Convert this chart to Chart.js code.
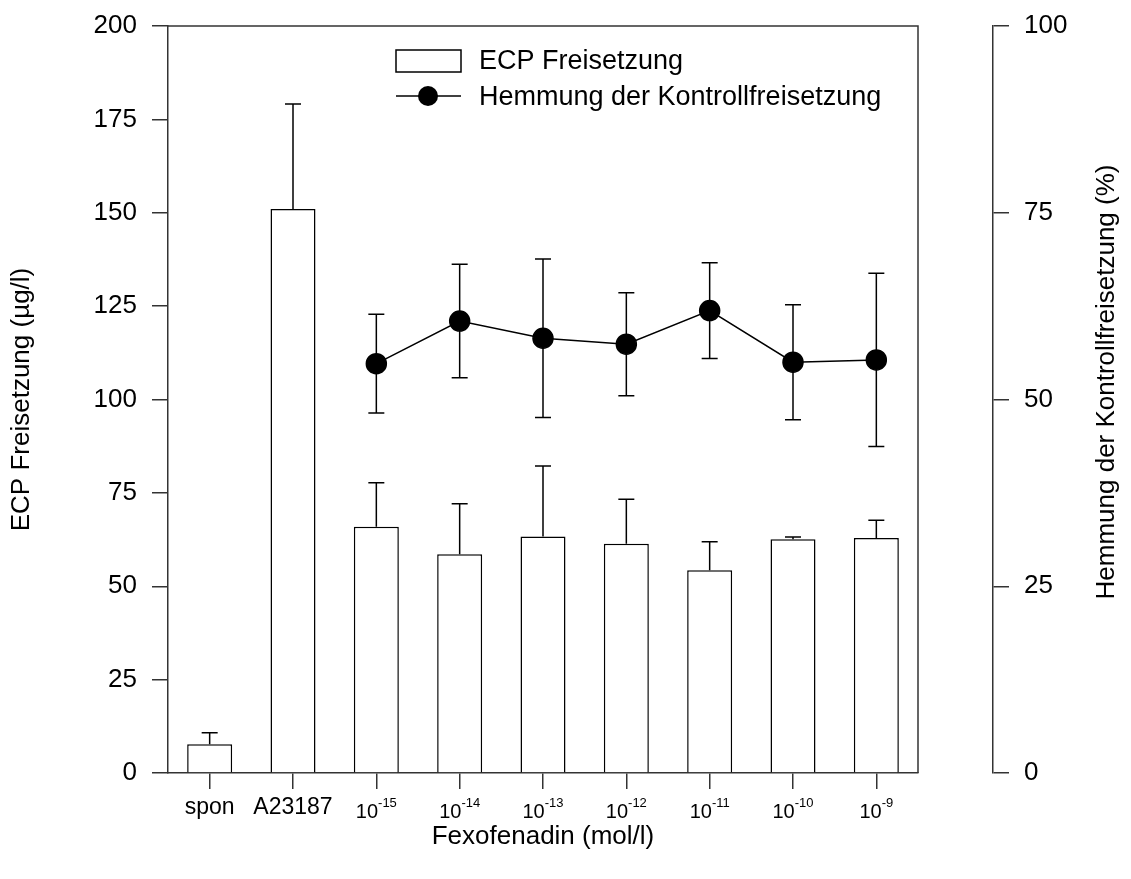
<!DOCTYPE html>
<html>
<head>
<meta charset="utf-8">
<script src="https://cdn.jsdelivr.net/npm/chart.js@4.4.0/dist/chart.umd.min.js"></script>
<style>
  html, body { margin: 0; padding: 0; background: #fff; }
  #wrap { width: 1131px; height: 879px; position: relative; }
</style>
</head>
<body>
<div id="wrap"><canvas id="chart"></canvas></div>
<script>
// data
const categories = ['spon', 'A23187', '10^-15', '10^-14', '10^-13', '10^-12', '10^-11', '10^-10', '10^-9'];
const ecpMean = [7.7, 151, 65.9, 58.6, 63.3, 61.4, 54.3, 62.6, 62.9];
const ecpSd = [3.1, 28.1, 11.8, 13.5, 18.9, 11.9, 7.6, 0.6, 4.8];
const inhMean = [null, null, 54.8, 60.5, 58.2, 57.4, 61.9, 55.0, 55.3];
const inhSd = [null, null, 6.6, 7.6, 10.6, 6.9, 6.4, 7.7, 11.6];
const leftMax = 200, rightMax = 100, tickStep = 25;

const FONT = 'Arial, "Liberation Sans", sans-serif';
const AXIS = '#333';
Chart.defaults.font.family = FONT;
Chart.defaults.color = '#000';

function errBar(ctx, x, y0, y1, cap) {
  ctx.beginPath();
  ctx.moveTo(x, y0); ctx.lineTo(x, y1);
  ctx.moveTo(x - cap, y1); ctx.lineTo(x + cap, y1);
  ctx.stroke();
}

// fixed box sizes so the plot area sits where it does in the figure
function fixVertical(width) {
  return s => { s.width = width; s.paddingTop = 26; s.paddingBottom = 10; };
}

const extras = {
  id: 'extras',
  afterDatasetsDraw(chart) {
    const { ctx, scales: { x, y, y2 } } = chart;
    ctx.save();
    ctx.strokeStyle = '#000';
    ctx.lineWidth = 1.5;
    ecpMean.forEach((m, i) => {
      const px = x.getPixelForValue(i);
      errBar(ctx, px, y.getPixelForValue(m), y.getPixelForValue(m + ecpSd[i]), 8);
    });
    inhMean.forEach((m, i) => {
      if (m == null) return;
      const px = x.getPixelForValue(i);
      errBar(ctx, px, y2.getPixelForValue(m), y2.getPixelForValue(m + inhSd[i]), 8);
      errBar(ctx, px, y2.getPixelForValue(m), y2.getPixelForValue(m - inhSd[i]), 8);
    });
    ctx.restore();
  },
  afterDraw(chart) {
    const { ctx, chartArea: a, scales: { x } } = chart;
    ctx.save();
    // top and right frame
    ctx.strokeStyle = AXIS;
    ctx.lineWidth = 1.5;
    ctx.beginPath();
    ctx.moveTo(a.left, a.top); ctx.lineTo(a.right, a.top); ctx.lineTo(a.right, a.bottom);
    ctx.stroke();

    // category labels with superscripts
    ctx.fillStyle = '#000';
    ctx.textBaseline = 'alphabetic';
    categories.forEach((c, i) => {
      const px = x.getPixelForValue(i);
      const [base, exp] = c.split('^');
      if (!exp) {
        ctx.font = '23px ' + FONT;
        ctx.textAlign = 'center';
        ctx.fillText(base, px, a.bottom + 41);
        return;
      }
      ctx.font = '20px ' + FONT;
      const wb = ctx.measureText(base).width;
      ctx.font = '13px ' + FONT;
      const we = ctx.measureText(exp).width;
      const x0 = px - (wb + we) / 2;
      ctx.textAlign = 'left';
      ctx.font = '20px ' + FONT;
      ctx.fillText(base, x0, a.bottom + 45);
      ctx.font = '13px ' + FONT;
      ctx.fillText(exp, x0 + wb, a.bottom + 34);
    });

    // right axis title, reading upwards
    ctx.font = '26px ' + FONT;
    ctx.textAlign = 'center';
    ctx.textBaseline = 'middle';
    ctx.translate(1107, 382);
    ctx.rotate(-Math.PI / 2);
    ctx.fillText('Hemmung der Kontrollfreisetzung (%)', 0, 0);
    ctx.restore();

    // legend
    ctx.save();
    const lx = a.left + 228, ly = a.top + 24;
    ctx.strokeStyle = '#000';
    ctx.lineWidth = 1.5;
    ctx.fillStyle = '#fff';
    ctx.fillRect(lx, ly, 65, 22);
    ctx.strokeRect(lx, ly, 65, 22);
    ctx.beginPath();
    ctx.moveTo(lx, ly + 46); ctx.lineTo(lx + 65, ly + 46);
    ctx.stroke();
    ctx.fillStyle = '#000';
    ctx.beginPath();
    ctx.arc(lx + 32, ly + 46, 10, 0, Math.PI * 2);
    ctx.fill();
    ctx.font = '27px ' + FONT;
    ctx.textAlign = 'left';
    ctx.textBaseline = 'middle';
    ctx.fillText('ECP Freisetzung', lx + 83, ly + 12);
    ctx.fillText('Hemmung der Kontrollfreisetzung', lx + 83, ly + 48);
    ctx.restore();
  }
};

new Chart(document.getElementById('chart'), {
  type: 'bar',
  data: {
    labels: categories,
    datasets: [
      {
        type: 'line',
        label: 'Hemmung der Kontrollfreisetzung',
        data: inhMean,
        yAxisID: 'y2',
        borderColor: '#000',
        borderWidth: 1.5,
        pointRadius: 10,
        pointBackgroundColor: '#000',
        pointBorderColor: '#000',
        tension: 0,
        order: 1,
      },
      {
        label: 'ECP Freisetzung',
        data: ecpMean,
        yAxisID: 'y',
        backgroundColor: '#fff',
        borderColor: '#000',
        borderWidth: 1.5,
        barPercentage: 0.54,
        categoryPercentage: 1,
        order: 2,
      },
    ],
  },
  options: {
    responsive: true,
    maintainAspectRatio: false,
    animation: false,
    layout: { padding: 0 },
    plugins: { legend: { display: false }, tooltip: { enabled: false } },
    scales: {
      x: {
        offset: true,
        grid: { display: true, offset: false, drawOnChartArea: false, drawTicks: true, tickLength: 16, color: AXIS, lineWidth: 1.5 },
        border: { display: true, color: AXIS, width: 1.5 },
        ticks: { callback: () => '' },
        title: { display: true, text: 'Fexofenadin (mol/l)', font: { size: 26 }, color: '#000', padding: { top: 0, bottom: 27 } },
        afterFit: s => { s.height = 106; },
      },
      y: {
        position: 'left',
        min: 0, max: leftMax,
        ticks: { stepSize: tickStep, padding: 15, font: { size: 26 }, color: '#000' },
        grid: { drawOnChartArea: false, drawTicks: true, tickLength: 16, color: AXIS, lineWidth: 1.5 },
        border: { display: true, color: AXIS, width: 1.5 },
        title: { display: true, text: 'ECP Freisetzung (µg/l)', font: { size: 26 }, color: '#000', padding: { top: 6, bottom: 0 } },
        afterFit: fixVertical(168),
      },
      gap: {
        type: 'linear',
        position: 'right',
        weight: 0,
        display: true,
        ticks: { display: false },
        grid: { display: false },
        border: { display: false },
        afterFit: fixVertical(75),
      },
      y2: {
        position: 'right',
        weight: 1,
        min: 0, max: rightMax,
        ticks: { stepSize: tickStep, padding: 15, font: { size: 26 }, color: '#000' },
        grid: { drawOnChartArea: false, drawTicks: true, tickLength: 16, color: AXIS, lineWidth: 1.5 },
        border: { display: true, color: AXIS, width: 1.5 },
        afterFit: fixVertical(138),
      },
    },
  },
  plugins: [extras],
});
</script>
</body>
</html>
